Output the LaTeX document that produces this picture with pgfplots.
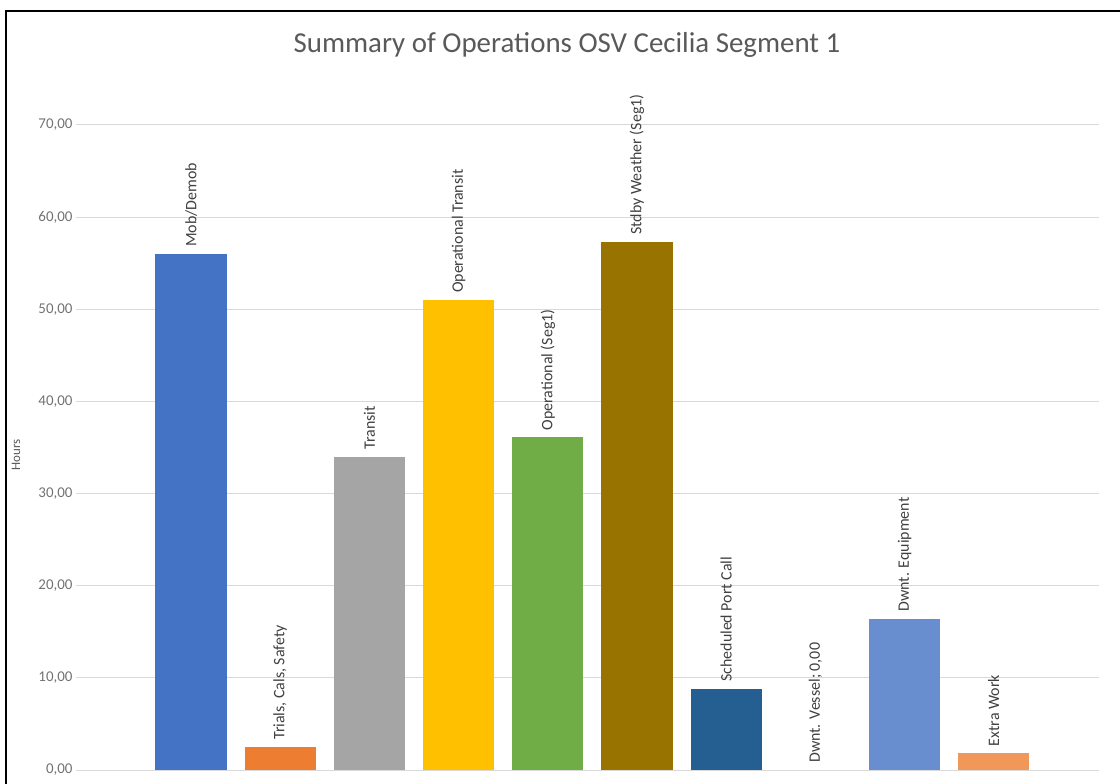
\documentclass[border=0pt]{standalone}
\usepackage{pgfplots}
\pgfplotsset{compat=1.18}
\usepackage{fontspec}
\setmainfont{Carlito}
\definecolor{cA}{HTML}{4472C4}
\definecolor{cB}{HTML}{ED7D31}
\definecolor{cC}{HTML}{A5A5A5}
\definecolor{cD}{HTML}{FFC000}
\definecolor{cE}{HTML}{70AD47}
\definecolor{cF}{HTML}{997300}
\definecolor{cG}{HTML}{255E91}
\definecolor{cI}{HTML}{698ED0}
\definecolor{cJ}{HTML}{F1975A}
\definecolor{gridc}{HTML}{D9D9D9}
\definecolor{tickc}{HTML}{595959}
\definecolor{lblc}{HTML}{404040}
\pgfplotsset{
  barlabel/.style={nodes near coords={#1},
    every node near coord/.append style={rotate=90, anchor=west,
      font=\fontsize{16}{19}\selectfont, text=lblc, inner xsep=7bp, inner ysep=0bp}},
  mybar/.style={ybar, bar width=0.8, bar shift=0pt, fill=#1, draw=none}
}
\begin{document}
\begin{tikzpicture}
\path[use as bounding box] (0bp,0bp) rectangle (1120bp,784bp);
\draw[black, line width=1.2bp] (6bp,0bp) -- (6bp,773bp) -- (1120bp,773bp);
\node[text=tickc, font=\fontsize{29}{34}\selectfont] at (567bp,739bp) {Summary of Operations OSV Cecilia Segment 1};
\node[rotate=90, text=tickc, font=\fontsize{13}{15}\selectfont] at (16bp,329bp) {Hours};
\begin{axis}[
  at={(76bp,14bp)}, anchor=south west,
  scale only axis, width=1023bp, height=645bp,
  xmin=-1.29, xmax=10.18, ymin=0, ymax=70,
  ytick={0,10,...,70}, xtick=\empty,
  ymajorgrids, grid style={color=gridc, line width=1bp},
  axis line style={draw=none}, major tick length=0pt,
  clip=false,
  yticklabel style={text=tickc!85, font=\fontsize{15}{18}\selectfont},
  /pgf/number format/.cd, fixed, fixed zerofill, precision=2, use comma, assume math mode=true,
]
\addplot[mybar=cA, barlabel={Mob/Demob}] coordinates {(0,56.0)};
\addplot[mybar=cB, barlabel={Trials, Cals, Safety}] coordinates {(1,2.5)};
\addplot[mybar=cC, barlabel={Transit}] coordinates {(2,34.0)};
\addplot[mybar=cD, barlabel={Operational Transit}] coordinates {(3,51.0)};
\addplot[mybar=cE, barlabel={Operational (Seg1)}] coordinates {(4,36.1)};
\addplot[mybar=cF, barlabel={Stdby Weather (Seg1)}] coordinates {(5,57.3)};
\addplot[mybar=cG, barlabel={Scheduled Port Call}] coordinates {(6,8.8)};
\addplot[ybar, bar width=0.8, bar shift=0pt, fill=none, draw=none, barlabel={Dwnt. Vessel; 0,00}] coordinates {(7,0)};
\addplot[mybar=cI, barlabel={Dwnt. Equipment}] coordinates {(8,16.4)};
\addplot[mybar=cJ, barlabel={Extra Work}] coordinates {(9,1.8)};
\end{axis}
\end{tikzpicture}
\end{document}
